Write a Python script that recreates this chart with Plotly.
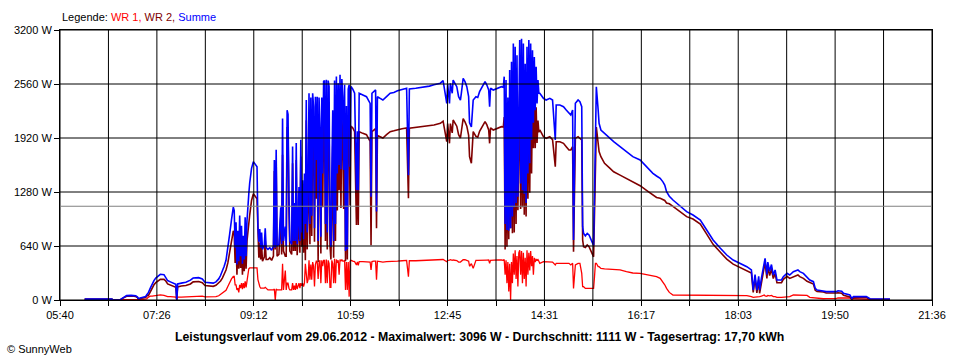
import plotly.graph_objects as go

# ---------------- data ----------------
times = [
    "06:07", "06:37", "06:38", "06:46", "06:47", "06:50", "06:53", "06:58", "07:03", "07:05", "07:06", "07:08",
    "07:11", "07:14", "07:15", "07:17", "07:19", "07:21", "07:23", "07:25", "07:28", "07:30",
    "07:34", "07:36", "07:38", "07:41", "07:44", "07:47", "07:48", "07:49", "07:53", "07:58",
    "08:03", "08:06", "08:12", "08:16", "08:19", "08:24", "08:28", "08:31", "08:34", "08:36",
    "08:38", "08:40", "08:42", "08:44", "08:46", "08:48", "08:50", "08:51", "08:52", "08:53",
    "08:54", "08:55", "08:56", "08:57", "08:58", "08:59", "09:00", "09:01", "09:02", "09:03",
    "09:04", "09:05", "09:06", "09:07", "09:08", "09:10", "09:12", "09:16", "09:17", "09:18",
    "09:19", "09:20", "09:21", "09:22", "09:24", "09:25", "09:26", "09:28", "09:30", "09:32",
    "09:34", "09:35", "09:36", "09:37", "09:38", "09:40", "09:42", "09:43", "09:44", "09:45",
    "09:47", "09:48", "09:49", "09:50", "09:51", "09:52", "09:54", "09:55", "09:56", "09:57",
    "09:58", "09:59", "10:00", "10:01", "10:02", "10:03", "10:04", "10:05", "10:06", "10:07",
    "10:08", "10:09", "10:10", "10:11", "10:12", "10:13", "10:14", "10:15", "10:16", "10:17",
    "10:18", "10:19", "10:20", "10:21", "10:22", "10:23", "10:24", "10:25", "10:26", "10:27",
    "10:28", "10:29", "10:30", "10:31", "10:32", "10:33", "10:34", "10:35", "10:36", "10:37",
    "10:38", "10:39", "10:40", "10:41", "10:42", "10:43", "10:44", "10:45", "10:46", "10:47",
    "10:48", "10:49", "10:50", "10:51", "10:52", "10:53", "10:54", "10:55", "10:56", "10:57",
    "10:58", "10:59", "11:01", "11:03", "11:05", "11:06", "11:07", "11:08", "11:12", "11:16",
    "11:20", "11:21", "11:22", "11:24", "11:26", "11:27", "11:28", "11:31", "11:34", "11:38",
    "11:42", "11:46", "11:50", "11:55", "12:00", "12:02", "12:03", "12:10", "12:18", "12:25",
    "12:30", "12:37", "12:40", "12:44", "12:45", "12:47", "12:48", "12:50", "12:51", "12:55",
    "12:57", "12:59", "13:00", "13:02", "13:04", "13:06", "13:08", "13:09", "13:11", "13:13",
    "13:16", "13:18", "13:20", "13:24", "13:26", "13:28", "13:30", "13:31", "13:32", "13:35",
    "13:40", "13:44", "13:46", "13:47", "13:48", "13:49", "13:50", "13:51", "13:52", "13:53",
    "13:54", "13:55", "13:56", "13:57", "13:58", "13:59", "14:00", "14:01", "14:02", "14:03",
    "14:04", "14:05", "14:06", "14:07", "14:08", "14:09", "14:10", "14:11", "14:12", "14:13",
    "14:14", "14:15", "14:16", "14:17", "14:18", "14:19", "14:20", "14:21", "14:22", "14:23",
    "14:24", "14:25", "14:26", "14:30", "14:33", "14:37", "14:40", "14:43", "14:44", "14:48",
    "14:52", "14:55", "14:58", "15:00", "15:02", "15:03", "15:05", "15:08", "15:10", "15:12",
    "15:13", "15:14", "15:16", "15:18", "15:20", "15:22", "15:24", "15:25", "15:26", "15:27",
    "15:28", "15:30", "15:31", "15:33", "15:37", "15:43", "15:47", "15:54", "16:01", "16:08",
    "16:16", "16:23", "16:30", "16:34", "16:38", "16:41", "16:43", "16:45", "16:48", "16:52",
    "17:00", "17:07", "17:14", "17:22", "17:29", "17:36", "17:44", "17:51", "17:58", "18:05",
    "18:13", "18:18", "18:20", "18:22", "18:24", "18:26", "18:27", "18:29", "18:32", "18:33",
    "18:35", "18:36", "18:38", "18:40", "18:42", "18:44", "18:46", "18:51", "18:53", "18:57",
    "19:00", "19:04", "19:09", "19:11", "19:15", "19:19", "19:22", "19:26", "19:28", "19:30",
    "19:37", "19:40", "19:51", "19:53", "19:57", "19:59", "20:06", "20:08", "20:10", "20:24",
    "20:28", "20:50",
]

summe_w = [
    10, 10, 0, 0, 10, 30, 52, 55, 50, 35, 15, 25,
    38, 42, 60, 90, 140, 190, 230, 260, 290, 305,
    300, 270, 230, 215, 200, 185, 5, 190, 200, 210,
    235, 260, 265, 250, 210, 205, 200, 215, 250, 290,
    340, 400, 470, 600, 780, 950, 1100, 1060, 620, 920,
    420, 820, 460, 1000, 520, 880, 430, 760, 480, 980,
    520, 940, 1150, 1260, 1390, 1560, 1640, 1580, 870, 690,
    840, 620, 800, 600, 650, 850, 620, 600, 620, 590,
    640, 1660, 620, 1780, 640, 660, 1100, 660, 2150, 700,
    870, 640, 2250, 2200, 1220, 700, 660, 1820, 700, 1150,
    700, 1860, 660, 900, 1340, 700, 1900, 800, 1420, 720,
    1500, 900, 2370, 800, 1300, 2450, 900, 2400, 1000, 2450,
    2290, 850, 2410, 1660, 2410, 700, 2400, 2050, 750, 2400,
    1500, 2590, 2600, 900, 2610, 800, 2600, 2530, 800, 630,
    1500, 2250, 700, 2600, 900, 2650, 1500, 2570, 1600, 2670,
    1550, 2620, 2410, 1540, 2550, 580, 2300, 600, 2500, 2550,
    1580, 2530, 2500, 2450, 1300, 2000, 1300, 2450, 2430, 2410,
    2330, 1225, 2450, 2470, 2490, 1050, 2410, 2390, 2370, 2410,
    2450, 2460, 2480, 2495, 2509, 1480, 2500, 2510, 2520, 2535,
    2550, 2570, 2600, 2330, 2560, 2330, 2568, 2450, 2607, 2528,
    2410, 2370, 2450, 2627, 2588, 2528, 2410, 2100, 2050, 2370,
    2410, 2400, 2469, 2548, 2588, 2548, 2489, 2291, 2510, 2489,
    2510, 2528, 2520, 2647, 900, 2607, 830, 2400, 820, 2726,
    850, 2825, 990, 3040, 1100, 3000, 1150, 2900, 1225, 2686,
    3080, 1380, 3096, 1300, 3040, 1260, 2800, 1150, 3000, 1500,
    3080, 1620, 3040, 1900, 2960, 2100, 2880, 2250, 2765, 2330,
    2607, 2450, 2450, 2390, 2370, 2390, 2370, 1896, 2311, 2311,
    2291, 2252, 2212, 2193, 2252, 711, 2331, 2370, 2350, 2291,
    869, 790, 760, 790, 770, 711, 672, 650, 1304, 2000,
    2528, 2252, 2094, 2015, 1975, 1916, 1876, 1817, 1758, 1699,
    1659, 1580, 1501, 1470, 1442, 1400, 1363, 1284, 1230, 1185,
    1106, 1047, 1007, 948, 830, 711, 613, 533, 474, 435,
    395, 356, 118, 300, 118, 280, 118, 260, 474, 494,
    300, 450, 340, 420, 296, 356, 237, 237, 277, 316,
    296, 336, 356, 336, 316, 277, 237, 217, 138, 118,
    110, 99, 99, 110, 104, 79, 59, 20, 40, 40,
    15, 12,
]

wr2_w = [
    10, 10, 0, 0, 10, 28, 45, 48, 42, 28, 8, 18,
    28, 30, 48, 55, 95, 145, 180, 205, 235, 245,
    245, 225, 190, 175, 165, 150, 0, 155, 165, 172,
    190, 215, 220, 205, 172, 168, 162, 175, 200, 225,
    260, 300, 355, 440, 570, 700, 820, 780, 440, 740,
    300, 680, 370, 820, 380, 680, 300, 560, 340, 760,
    370, 700, 830, 890, 1010, 1180, 1260, 1200, 630, 500,
    680, 480, 660, 460, 510, 700, 480, 480, 500, 470,
    520, 1530, 600, 1650, 520, 540, 980, 540, 1720, 580,
    520, 520, 2050, 2000, 1080, 580, 540, 1620, 580, 980,
    580, 1660, 530, 740, 1140, 560, 1700, 630, 1220, 560,
    1300, 470, 2130, 600, 1060, 1980, 660, 1980, 760, 2000,
    1890, 690, 1990, 1200, 1960, 450, 1960, 1580, 550, 1930,
    1100, 2120, 2130, 700, 2130, 600, 2130, 2100, 650, 480,
    1030, 1820, 500, 2110, 700, 2170, 1060, 2100, 1300, 2190,
    1090, 2140, 1950, 1080, 2080, 460, 1850, 480, 2050, 2090,
    1120, 2060, 2040, 1995, 890, 1550, 890, 1995, 1975, 1960,
    1880, 650, 1995, 2010, 2030, 850, 1950, 1935, 1920, 1960,
    1995, 2005, 2020, 2030, 2040, 1205, 2035, 2045, 2050, 2060,
    2075, 2094, 2120, 1876, 2090, 1857, 2090, 1980, 2133, 2060,
    1960, 1920, 1990, 2150, 2110, 2060, 1950, 1700, 1620, 1995,
    1940, 1930, 2000, 2075, 2115, 2075, 2015, 1857, 2040, 2015,
    2035, 2054, 2050, 2167, 600, 2137, 630, 1950, 720, 2296,
    850, 2375, 790, 2490, 800, 2410, 900, 2380, 1065, 2126,
    2490, 1080, 2516, 1100, 2480, 1010, 2300, 990, 2410, 1200,
    2520, 1270, 2460, 1500, 2440, 1800, 2380, 1800, 2285, 1860,
    2127, 1990, 2015, 1936, 1916, 1936, 1900, 1580, 1876, 1876,
    1857, 1817, 1778, 1778, 1817, 573, 1916, 1936, 1916, 1896,
    711, 632, 622, 652, 632, 573, 534, 512, 1027, 1565,
    2050, 1857, 1760, 1699, 1620, 1560, 1520, 1480, 1442, 1395,
    1355, 1300, 1240, 1215, 1205, 1190, 1180, 1150, 1140, 1110,
    1047, 988, 960, 900, 780, 660, 565, 484, 425, 388,
    348, 320, 90, 260, 85, 240, 80, 215, 420, 445,
    255, 395, 290, 365, 255, 315, 205, 205, 245, 280,
    256, 277, 297, 277, 257, 222, 205, 190, 115, 100,
    95, 83, 83, 85, 80, 55, 35, 5, 25, 30,
    8, 6,
]

wr1_w = [
    0, 0, 0, 0, 0, 2, 5, 6, 6, 6, 6, 7,
    8, 10, 12, 35, 45, 45, 50, 55, 55, 60,
    55, 45, 40, 40, 35, 35, 5, 35, 35, 38,
    45, 45, 45, 45, 38, 37, 38, 40, 50, 65,
    80, 100, 115, 160, 210, 250, 280, 280, 180, 180,
    120, 140, 90, 180, 140, 200, 130, 200, 140, 220,
    150, 240, 320, 370, 380, 380, 380, 380, 240, 190,
    160, 140, 140, 140, 140, 150, 140, 120, 120, 120,
    120, 130, 0, 130, 120, 120, 120, 120, 430, 120,
    350, 120, 200, 200, 140, 120, 120, 200, 120, 170,
    120, 200, 130, 160, 200, 140, 200, 170, 200, 160,
    200, 430, 240, 200, 240, 470, 240, 420, 240, 450,
    400, 160, 420, 460, 450, 250, 440, 470, 200, 470,
    400, 470, 470, 200, 480, 200, 470, 430, 150, 150,
    470, 430, 200, 490, 200, 480, 440, 470, 300, 480,
    460, 480, 460, 460, 470, 120, 450, 120, 450, 40,
    460, 470, 460, 455, 415, 450, 410, 455, 455, 450,
    450, 355, 455, 460, 460, 240, 460, 455, 450, 455,
    455, 455, 460, 465, 469, 275, 465, 465, 470, 475,
    475, 476, 480, 454, 470, 473, 478, 470, 474, 468,
    450, 450, 460, 477, 478, 468, 460, 400, 430, 375,
    470, 470, 469, 473, 473, 473, 474, 434, 470, 474,
    475, 474, 470, 480, 300, 470, 200, 450, 100, 430,
    0, 450, 200, 550, 300, 590, 250, 520, 160, 560,
    590, 300, 580, 200, 560, 250, 500, 160, 590, 300,
    560, 350, 580, 400, 520, 300, 500, 450, 480, 470,
    480, 460, 435, 454, 454, 454, 450, 415, 435, 435,
    434, 435, 434, 415, 435, 138, 415, 434, 434, 316,
    158, 158, 138, 138, 138, 138, 138, 138, 277, 435,
    435, 395, 395, 375, 370, 365, 360, 356, 336, 320,
    316, 300, 290, 277, 257, 217, 180, 138, 90, 59,
    59, 55, 51, 51, 51, 51, 51, 51, 51, 51,
    51, 40, 32, 35, 35, 40, 40, 45, 59, 50,
    45, 55, 50, 55, 40, 40, 32, 32, 32, 36,
    40, 59, 59, 59, 59, 55, 32, 27, 23, 18,
    15, 16, 16, 25, 25, 24, 24, 15, 15, 10,
    7, 6,
]

x_start = "05:40"
x_end = "21:36"
x_tick_labels = ["05:40", "07:26", "09:12", "10:59", "12:45",
                 "14:31", "16:17", "18:03", "19:50", "21:36"]
y_tick_values = [0, 640, 1280, 1920, 2560, 3200]
average_w = 1111

legend_text = "Legende: "
series_names = ["WR 1", "WR 2", "Summe"]
series_colors = ["#FF0000", "#800000", "#0000FF"]
title_text = ("Leistungsverlauf vom 29.06.2012 - Maximalwert: 3096 W - "
              "Durchschnitt: 1111 W - Tagesertrag: 17,70 kWh")
credit_text = "\u00a9 SunnyWeb"

assert len(times) == len(summe_w) == len(wr2_w) == len(wr1_w)


# ---------------- figure ----------------
def to_min(s):
    h, m = s.split(":")
    return int(h) * 60 + int(m)


t = [to_min(s) for s in times]
t0, t1 = to_min(x_start), to_min(x_end)
n_grid = 2 * (len(x_tick_labels) - 1)
grid_x = [t0 + i * (t1 - t0) / n_grid for i in range(n_grid + 1)]
grid_text = [x_tick_labels[i // 2] if i % 2 == 0 else "" for i in range(n_grid + 1)]

FONT = "Liberation Sans, Arial, sans-serif"

fig = go.Figure()
for vals, name, color, width in [
    (wr1_w, series_names[0], series_colors[0], 1.3),
    (wr2_w, series_names[1], series_colors[1], 1.6),
    (summe_w, series_names[2], series_colors[2], 1.6),
]:
    fig.add_trace(go.Scatter(
        x=t, y=vals, mode="lines", name=name,
        line=dict(color=color, width=width, shape="linear"),
        hoverinfo="skip",
    ))

shapes = []
for gx in grid_x:
    shapes.append(dict(type="line", xref="x", yref="paper", x0=gx, x1=gx, y0=0, y1=1,
                       line=dict(color="black", width=1), layer="above"))
for gy in y_tick_values:
    shapes.append(dict(type="line", xref="paper", yref="y", x0=0, x1=1, y0=gy, y1=gy,
                       line=dict(color="black", width=1), layer="above"))
shapes.append(dict(type="line", xref="paper", yref="y", x0=0, x1=1,
                   y0=average_w, y1=average_w,
                   line=dict(color="#808080", width=1.2), layer="above"))

legend_html = (legend_text
               + f"<span style='color:{series_colors[0]}'>{series_names[0]},</span> "
               + f"<span style='color:{series_colors[1]}'>{series_names[1]},</span> "
               + f"<span style='color:{series_colors[2]}'>{series_names[2]}</span>")

fig.update_layout(
    width=960, height=360,
    margin=dict(l=60, r=28, t=30, b=60),
    paper_bgcolor="white", plot_bgcolor="white",
    showlegend=False,
    font=dict(family=FONT, size=11, color="black"),
    shapes=shapes,
    xaxis=dict(
        range=[t0, t1], tickmode="array", tickvals=grid_x, ticktext=grid_text,
        ticks="outside", ticklen=5, tickwidth=1, tickcolor="black",
        showgrid=False, zeroline=False,
        showline=True, linecolor="black", linewidth=1, mirror=True,
        tickfont=dict(family=FONT, size=11, color="black"),
    ),
    yaxis=dict(
        range=[0, 3200], tickmode="array", tickvals=y_tick_values,
        ticktext=[f"{v} W" for v in y_tick_values],
        ticks="outside", ticklen=5, tickwidth=1, tickcolor="black",
        showgrid=False, zeroline=False,
        showline=True, linecolor="black", linewidth=1, mirror=True,
        tickfont=dict(family=FONT, size=11, color="black"),
    ),
    annotations=[
        dict(text=legend_html, xref="paper", yref="paper", x=0, y=1 + 13 / 270,
             xanchor="left", yanchor="middle", showarrow=False,
             font=dict(family=FONT, size=11, color="black")),
        dict(text=f"<b>{title_text}</b>", xref="paper", yref="paper",
             x=(479.5 - 60) / 872, y=-37 / 270, xanchor="center", yanchor="middle",
             showarrow=False, font=dict(family=FONT, size=12.3, color="black")),
        dict(text=credit_text, xref="paper", yref="paper", x=-55 / 872, y=-49 / 270,
             xanchor="left", yanchor="middle", showarrow=False,
             font=dict(family=FONT, size=11, color="black")),
    ],
)

fig.write_html(
    "out.html",
    config={"displayModeBar": False, "staticPlot": True},
    post_script="document.body.style.margin='0px';document.body.style.overflow='hidden';",
)
